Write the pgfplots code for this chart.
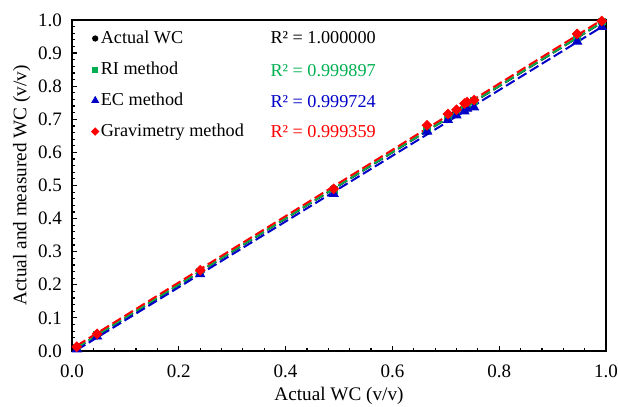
\documentclass[border=0pt]{standalone}
\usepackage{fontspec}
\setmainfont{Liberation Serif}
\usepackage{pgfplots}
\pgfplotsset{compat=1.18}
\definecolor{rigreen}{RGB}{0,176,80}
\definecolor{ecblue}{RGB}{0,0,200}
\definecolor{gvred}{RGB}{255,0,0}
\begin{document}
\begin{tikzpicture}
\begin{axis}[
  scale only axis, width=267pt, height=165.5pt,
  xmin=0, xmax=1, ymin=0, ymax=1,
  xtick={0,0.2,0.4,0.6,0.8,1.0},
  ytick={0,0.1,0.2,0.3,0.4,0.5,0.6,0.7,0.8,0.9,1.0},
  minor x tick num=4, minor y tick num=4,
  tick pos=left, tick align=inside,
  major tick length=2.5pt, minor tick length=1.6pt,
  axis line style={line width=0.9pt},
  every tick/.style={black, line width=0.6pt},
  /pgf/number format/assume math mode=true,
  /pgf/number format/.cd, fixed, fixed zerofill, precision=1, /pgfplots/.cd,
  ticklabel style={font=\fontsize{9.5}{10}\selectfont},
  xticklabel style={yshift=-3.5pt},
  yticklabel style={xshift=-1.5pt},
  xlabel={Actual WC (v/v)},
  ylabel={Actual and measured WC (v/v)},
  label style={font=\fontsize{9.6}{11}\selectfont},
  xlabel style={at={(axis description cs:0.5,-0.136)}, anchor=center},
  ylabel style={at={(axis description cs:-0.094,0.5)}, anchor=center, rotate=0},
  legend style={draw=none, fill=none, at={(axis description cs:0.036,0.975)}, anchor=north west,
    font=\fontsize{9.1}{11}\selectfont, row sep=5.7pt, inner sep=0pt, nodes={inner sep=1pt}},
  legend cell align=left,
  legend image code/.code={\draw[#1, every mark/.append style={scale=0.75}] plot coordinates {(0.08cm,0cm)};},
  clip=false,
]
% trend lines
\addplot[black, line width=1pt, dash pattern=on 5pt off 2pt, forget plot] coordinates {(0.009,0.009) (0.992,0.992)};
\addplot[rigreen, line width=1pt, dash pattern=on 5pt off 2pt, forget plot] coordinates {(0.009,0.010) (0.992,0.993)};
\addplot[ecblue, line width=1pt, dash pattern=on 5pt off 2pt, forget plot] coordinates {(0.009,0.003) (0.992,0.979)};
\addplot[gvred, line width=1pt, dash pattern=on 5pt off 2pt, forget plot] coordinates {(0.009,0.016) (0.992,1.000)};
% data
\addplot[only marks, mark=*, mark size=1.8pt, black] coordinates {
(0.009,0.009) (0.047,0.047) (0.240,0.240) (0.490,0.490) (0.665,0.665) (0.704,0.704)
(0.720,0.720) (0.735,0.735) (0.740,0.740) (0.753,0.753) (0.946,0.946) (0.992,0.992)};
\addlegendentry{Actual WC}
\addplot[only marks, mark=square*, mark size=1.7pt, rigreen] coordinates {
(0.009,0.010) (0.047,0.049) (0.240,0.239) (0.490,0.487) (0.665,0.671) (0.704,0.707)
(0.720,0.722) (0.735,0.737) (0.740,0.743) (0.753,0.756) (0.946,0.948) (0.992,0.996)};
\addlegendentry{RI method}
\addplot[only marks, mark=triangle*, mark size=2.6pt, ecblue] coordinates {
(0.009,0.005) (0.047,0.044) (0.240,0.232) (0.490,0.475) (0.665,0.663) (0.704,0.698)
(0.720,0.712) (0.735,0.724) (0.740,0.732) (0.753,0.736) (0.946,0.935) (0.992,0.979)};
\addlegendentry{EC method}
\addplot[only marks, mark=square*, mark size=1.7pt, mark options={rotate=45}, gvred] coordinates {
(0.009,0.013) (0.047,0.052) (0.240,0.244) (0.490,0.490) (0.665,0.682) (0.704,0.716)
(0.720,0.729) (0.735,0.748) (0.740,0.752) (0.753,0.758) (0.946,0.958) (0.992,0.997)};
\addlegendentry{Gravimetry method}
\node[anchor=west, inner sep=0pt, font=\fontsize{9.1}{11}\selectfont, text=black] at (axis description cs:0.371,0.946) {R² = 1.000000};
\node[anchor=west, inner sep=0pt, font=\fontsize{9.1}{11}\selectfont, text=rigreen] at (axis description cs:0.371,0.846) {R² = 0.999897};
\node[anchor=west, inner sep=0pt, font=\fontsize{9.1}{11}\selectfont, text=ecblue] at (axis description cs:0.371,0.755) {R² = 0.999724};
\node[anchor=west, inner sep=0pt, font=\fontsize{9.1}{11}\selectfont, text=gvred] at (axis description cs:0.371,0.662) {R² = 0.999359};
\end{axis}
\pgfresetboundingbox
\path[use as bounding box] ([xshift=-36pt,yshift=-28pt]current axis.south west) rectangle ([xshift=6pt,yshift=10pt]current axis.north east);
\end{tikzpicture}
\end{document}
